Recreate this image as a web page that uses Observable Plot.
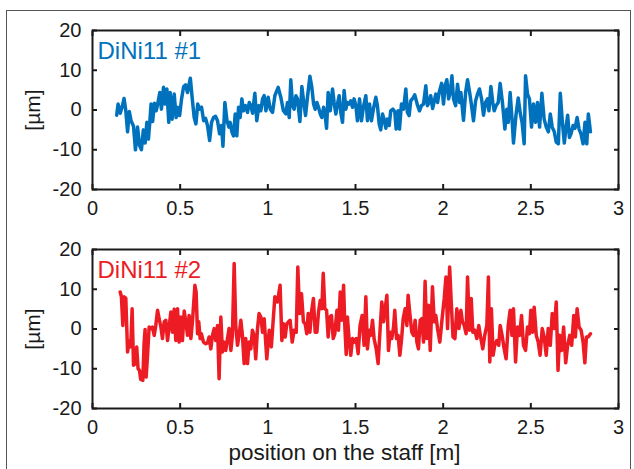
<!DOCTYPE html>
<html><head><meta charset="utf-8">
<script src="https://cdn.jsdelivr.net/npm/d3@7"></script>
<script src="https://cdn.jsdelivr.net/npm/@observablehq/plot@0.6"></script>
<style>
body{margin:0;background:#fff;}
#wrap{position:relative;width:634px;height:469px;overflow:hidden;font-family:"Liberation Sans",Arial,sans-serif;}
#border{position:absolute;left:6px;top:10px;width:625px;height:480px;border:1.5px solid #555;box-sizing:border-box}
.panel{position:absolute;left:0}
</style></head><body><div id="wrap"><div id="border"></div></div>
<script>
const xTicks = [0, 0.5, 1, 1.5, 2, 2.5, 3];
const yTicks = [-20, -10, 0, 10, 20];
const xLabel = "position on the staff [m]";
const yLabel = "[µm]";
const names = ["DiNi11 #1", "DiNi11 #2"];
const colors = ["#0072BD", "#ED1C24"];

const pos1 = [0.138,0.146,0.158,0.171,0.18,0.19,0.2,0.21,0.22,0.234,0.245,0.257,0.268,0.279,0.29,0.3,0.31,0.319,0.327,0.334,0.343,0.353,0.363,0.37,0.384,0.393,0.405,0.414,0.424,0.435,0.443,0.454,0.466,0.477,0.485,0.497,0.508,0.52,0.531,0.542,0.558,0.569,0.58,0.59,0.6,0.611,0.622,0.634,0.645,0.656,0.668,0.679,0.69,0.702,0.713,0.725,0.736,0.744,0.755,0.767,0.778,0.785,0.795,0.804,0.814,0.823,0.833,0.842,0.852,0.861,0.873,0.884,0.894,0.903,0.913,0.926,0.937,0.949,0.96,0.97,0.979,0.989,1.002,1.014,
1.027,1.04,1.059,1.074,1.089,1.103,1.112,1.122,1.131,1.141,1.15,1.16,1.169,1.183,1.194,1.205,1.215,1.226,1.24,1.251,1.261,1.27,1.28,1.289,1.299,1.308,1.318,1.327,1.335,1.344,1.356,1.369,1.378,1.388,1.397,1.407,1.416,1.426,1.435,1.445,1.454,1.464,1.473,1.483,1.492,1.502,1.511,1.523,1.534,1.545,1.559,1.568,1.58,1.591,1.602,1.616,1.625,1.635,1.644,1.654,1.663,1.673,1.682,1.692,1.701,1.713,1.724,1.732,1.743,1.751,1.762,1.774,1.787,1.796,1.806,1.815,1.831,1.838,1.853,1.865,1.876,1.888,1.901,1.91,1.92,1.929,
1.94,1.958,1.968,1.977,1.991,2.002,2.012,2.021,2.031,2.04,2.05,2.059,2.071,2.082,2.094,2.101,2.116,2.128,2.139,2.151,2.162,2.173,2.185,2.196,2.207,2.219,2.23,2.242,2.253,2.261,2.272,2.283,2.291,2.302,2.314,2.325,2.338,2.352,2.363,2.371,2.382,2.394,2.401,2.415,2.428,2.439,2.45,2.462,2.47,2.481,2.492,2.504,2.515,2.527,2.538,2.55,2.563,2.576,2.588,2.6,2.611,2.622,2.634,2.645,2.657,2.668,2.68,2.691,2.701,2.71,2.72,2.729,2.741,2.752,2.764,2.775,2.786,2.798,2.809,2.819,2.828,2.84];
const val1 = [-1.3,1.5,-0.8,1.1,2.9,-0.2,-5.5,-0.4,-2.7,-4.1,-10,-4.3,-8.9,-10,-5,-8.3,-3.1,-7.3,-2.9,1.5,-2.9,1.7,-0.2,1.1,4.4,0.2,5.7,1.5,5.3,-3.1,4.4,-2.3,4,-1.9,0.7,-1.4,2.8,5.9,6.3,4.4,8,2.8,-1.9,-3.5,1.5,0.2,0.7,-2.7,-2.1,-3.9,-7.7,-3.1,-1.9,-1.6,-2.7,-6,-3.9,-9.1,1.9,-2.7,-4.3,-3.1,-5.5,-6.5,-1,-6.5,0.7,-1.9,2.8,-0.2,1.1,-0.6,1.9,1.1,-0.8,4.2,-2.7,1.1,-0.2,2.8,3.6,-0.2,3.2,0.2,
-0.6,3.6,5.7,3.2,-0.2,-1,1.9,-1.9,7.6,1.1,0.2,3.6,2.8,-2.9,5.9,1.9,-1.4,3.2,8.5,5.7,1.5,0.2,1.9,0.7,-1,-1.9,0.7,-1.4,-4.6,4.4,-0.2,5.3,1.9,-1,1.5,3.6,-0.6,-3.1,4.9,0.2,1.9,1.5,2.3,0.7,2.8,1.1,-2.7,2.8,-2.7,0.7,3.6,-2.7,1.5,-2.7,0.2,3.2,1.1,-3.5,-5,-1,-2.3,-4.6,-2.3,-3.9,-0.2,0.2,-0.4,-4.8,-0.2,-4.8,1.5,0.2,5.3,-0.6,-1.4,2.3,3.2,3.8,1.3,-0.2,1.1,1.5,6.1,1.1,1.9,3.6,
0.4,4,1.9,4.4,6.7,1.5,6.3,7.6,2.8,4.4,8.6,2.8,1.1,6.5,1.9,4.4,-2.6,4.4,7.6,4.4,1.1,-2.7,2.3,4,5.3,2.8,-1.3,1.9,2.8,-0.2,5.9,1.9,-0.2,1.1,1.9,6.7,1.9,-4.8,0.2,-3.1,4.4,-3.1,-8.3,-1.4,3,-0.6,-3.1,-8.5,8.6,4,2.8,-4.3,1.5,-3.1,1.9,-4.3,4.2,-2.3,-4.3,-5.5,-1,-4.3,-5.5,-8.1,-8.5,4.2,-3.1,-8.3,-4.3,-1.3,-6.9,-6,-3.9,-4.6,-1.9,-4.8,-6,-8.5,-3.1,-8.5,-1,-5.5];

const pos2 = [0.158,0.165,0.173,0.18,0.19,0.2,0.209,0.218,0.226,0.234,0.245,0.252,0.26,0.268,0.275,0.287,0.294,0.3,0.306,0.314,0.323,0.333,0.342,0.352,0.361,0.371,0.382,0.39,0.399,0.409,0.418,0.428,0.437,0.447,0.456,0.466,0.475,0.485,0.494,0.504,0.513,0.523,0.532,0.542,0.551,0.561,0.57,0.584,0.591,0.599,0.606,0.614,0.621,0.633,0.646,0.656,0.665,0.675,0.684,0.694,0.703,0.713,0.722,0.732,0.741,0.751,0.76,0.77,0.779,0.789,0.798,0.808,0.817,0.827,0.836,0.846,0.855,0.865,0.874,0.884,0.893,0.903,0.912,0.922,0.931,0.941,0.95,0.96,0.97,0.979,0.994,1.008,1.02,1.04,1.055,1.07,
1.08,1.089,1.099,1.108,1.118,1.127,1.139,1.15,1.162,1.171,1.181,1.192,1.203,1.213,1.222,1.23,1.24,1.249,1.26,1.27,1.28,1.289,1.299,1.308,1.316,1.325,1.335,1.344,1.354,1.363,1.373,1.382,1.394,1.403,1.413,1.422,1.432,1.439,1.447,1.454,1.464,1.473,1.483,1.492,1.504,1.515,1.526,1.538,1.549,1.559,1.568,1.578,1.587,1.597,1.606,1.618,1.629,1.641,1.65,1.66,1.669,1.679,1.688,1.698,1.707,1.717,1.724,1.734,1.743,1.753,1.762,1.772,1.783,1.793,1.8,1.812,1.821,1.831,1.84,1.85,1.859,1.869,1.878,1.888,1.897,1.907,1.916,1.926,
1.939,1.949,1.958,1.968,1.981,1.993,2.006,2.016,2.025,2.037,2.046,2.056,2.067,2.078,2.09,2.101,2.11,2.12,2.131,2.139,2.15,2.16,2.169,2.18,2.192,2.203,2.215,2.226,2.237,2.249,2.258,2.266,2.275,2.285,2.294,2.306,2.317,2.325,2.336,2.348,2.359,2.371,2.382,2.392,2.401,2.413,2.424,2.436,2.447,2.458,2.47,2.481,2.492,2.5,2.51,2.519,2.531,2.542,2.553,2.565,2.576,2.588,2.599,2.611,2.622,2.634,2.645,2.655,2.664,2.676,2.687,2.699,2.71,2.722,2.733,2.745,2.754,2.764,2.775,2.787,2.798,2.808,2.817,2.827,2.84];
const val2 = [9.3,8.1,0.9,8.1,7.7,-5.8,-3,-4.5,5.1,-9.1,-8.7,-4.5,-10,-10.4,-12.7,-12.9,-3.7,-0.1,-12.1,-6.6,0.5,0.1,0.5,-1.6,0.9,4.7,2.2,0.5,-2.4,1.8,2.2,-2.9,0.5,4.3,-0.8,5,-2.9,5.1,-3.3,3,-2.9,4.5,1.8,-1.6,3.4,-2.4,1.8,11,9.3,-1.2,1.8,-2.4,-1.2,-3.3,-3.7,-3.5,-2,-5,-1.6,0.1,-2.9,0.9,-12.5,3,-5.8,-3.3,-5.4,-2.4,0.1,-5.4,-1.6,16.5,0.9,-4.1,-1.6,2.2,-1.6,-8.7,-2.4,-8.7,-3.3,-5,-0.3,-1.6,-7.5,0.1,3.9,3,-0.8,2.6,-7.5,-0.3,-4.5,8.1,6.8,11,
-2.9,1.3,-2,1.3,1.8,2.2,-3.3,-0.3,-0.8,15.6,3.9,8.9,1.8,1.3,-1.2,3.9,-0.8,4.3,7.7,-0.8,-0.8,4.3,7.2,5.1,14,5.1,4.7,-2,3,3.4,-2.4,-1.2,4.7,-0.3,9.3,2.2,11,0.9,-6.4,3,-2.9,-6.6,-2.4,-3.3,-2.4,-6.2,0.9,3.4,-4.1,8.1,-5,-0.3,-1.6,2.2,-2.4,-5,-8.7,0.5,6.8,1.8,5.1,8.5,-5.4,-0.8,-2.4,0.5,4.7,-2.4,-1.6,-6.6,-2.9,2.6,5.1,0.9,8.5,3,-0.8,-1.6,2.2,-3.3,-5,2.2,2.6,-3.3,12,-2.4,6,-5.4,
10.6,1.8,3.4,0.1,-3.3,2.2,7.7,13.1,0.1,15.6,6.8,-2,-2.4,5.1,0.1,4.7,1.8,0.9,-1.2,13.1,-0.3,7.7,-0.8,-0.3,-2.4,0.9,-2.4,-5,-1.6,0.9,13.1,-8.3,5.1,-6.6,-4.1,-2.9,-4.1,0.9,-1.6,-5,-7.5,0.9,4.7,-1.6,5.1,-8.3,0.5,-1.6,3.4,-4.1,-5.4,0.5,-1.2,4.7,-0.8,5.5,-1.6,-3.3,-6.6,0.1,-2,-6.6,0.1,-4.1,3.9,0.1,6.8,-10.4,-1.6,-5.4,0.5,-8.5,-4.1,-1.6,-4.1,3.4,-2,5.1,0.5,-0.3,-3.3,-8.5,-2,-2,-1.2];

const FONT = '"Liberation Sans", Arial, sans-serif';

function panel(pos, val, color, name, withLabel) {
  const ink = "#1a1a1a";
  return Plot.plot({
    width: 634,
    height: withLabel ? 250 : 230,
    marginLeft: 92, marginRight: 16, marginTop: 30, marginBottom: withLabel ? 61 : 41,
    style: {fontFamily: FONT, fontSize: "20px", background: "transparent", color: ink, overflow: "visible"},
    x: {domain: [0, 3]},
    y: {domain: [-20, 20]},
    marks: [
      Plot.lineY(val, {x: pos, stroke: color, strokeWidth: 3.5, strokeLinejoin: "round", strokeLinecap: "round"}),
      Plot.frame({stroke: ink, strokeWidth: 2}),
      Plot.axisX(xTicks, {anchor: "bottom", tickSize: -5, tickPadding: 16, strokeWidth: 2, tickFormat: d => String(d), label: null}),
      Plot.axisX(xTicks, {anchor: "top", tickSize: -5, strokeWidth: 2, tickFormat: () => "", label: null}),
      Plot.axisY(yTicks, {anchor: "left", tickSize: -5, tickPadding: 16, strokeWidth: 2, tickFormat: d => String(d), label: null}),
      Plot.axisY(yTicks, {anchor: "right", tickSize: -5, strokeWidth: 2, tickFormat: () => "", label: null}),
      Plot.text([yLabel], {frameAnchor: "left", dx: -59, rotate: -90, textAnchor: "middle", lineAnchor: "middle", fontSize: 21, fill: ink}),
      Plot.text([name], {frameAnchor: "top-left", dx: 5, dy: 11, fill: color, fontSize: 24}),
      withLabel ? Plot.text([xLabel], {frameAnchor: "bottom", dx: -11, dy: 44, lineAnchor: "middle", fontSize: 22.5, fill: ink}) : null
    ]
  });
}

const wrap = document.getElementById("wrap");
const p1 = panel(pos1, val1, colors[0], names[0], false);
p1.classList.add("panel"); p1.style.top = "0px";
const p2 = panel(pos2, val2, colors[1], names[1], true);
p2.classList.add("panel"); p2.style.top = "219px";
wrap.appendChild(p1);
wrap.appendChild(p2);
</script>
</body></html>
